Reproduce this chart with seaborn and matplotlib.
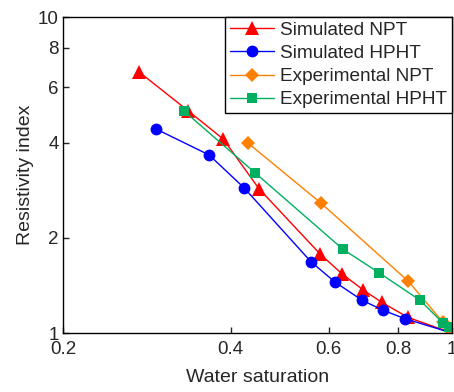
import pandas as pd
import matplotlib.pyplot as plt
import seaborn as sns
from matplotlib.ticker import FixedLocator, NullLocator, FixedFormatter

# Simulated NPT
sw_sim_npt = [0.274, 0.336, 0.388, 0.450, 0.579, 0.634, 0.692, 0.748, 0.834, 1.0]
ri_sim_npt = [6.70, 5.04, 4.11, 2.86, 1.78, 1.54, 1.37, 1.25, 1.12, 1.0]

# Simulated HPHT
sw_sim_hpht = [0.294, 0.366, 0.423, 0.558, 0.616, 0.689, 0.752, 0.823, 1.0]
ri_sim_hpht = [4.42, 3.66, 2.88, 1.68, 1.45, 1.27, 1.18, 1.11, 1.0]

# Experimental NPT
sw_exp_npt = [0.430, 0.581, 0.834, 0.963, 1.0]
ri_exp_npt = [3.99, 2.58, 1.46, 1.083, 1.0]

# Experimental HPHT
sw_exp_hpht = [0.330, 0.443, 0.637, 0.740, 0.876, 0.963, 0.988]
ri_exp_hpht = [5.04, 3.21, 1.84, 1.55, 1.27, 1.076, 1.044]

xticks = [0.2, 0.4, 0.6, 0.8, 1.0]
xtick_labels = ['0.2', '0.4', '0.6', '0.8', '1']
yticks = [1, 2, 4, 6, 8, 10]
ytick_labels = ['1', '2', '4', '6', '8', '10']

series = [
    ('Simulated NPT', sw_sim_npt, ri_sim_npt, '#ff0000', '^', 10),
    ('Simulated HPHT', sw_sim_hpht, ri_sim_hpht, '#0000ff', 'o', 8.5),
    ('Experimental NPT', sw_exp_npt, ri_exp_npt, '#ff8000', 'D', 7.5),
    ('Experimental HPHT', sw_exp_hpht, ri_exp_hpht, '#00b060', 's', 7),
]

sns.set_style('ticks')
plt.rcParams['font.family'] = ['Liberation Sans', 'DejaVu Sans']

fig = plt.figure(figsize=(4.54, 3.92), dpi=100)
ax = fig.add_axes([0.139, 0.1505, 0.8566, 0.806])

for name, x, y, color, marker, ms in series:
    df = pd.DataFrame({'sw': x, 'ri': y})
    sns.lineplot(data=df, x='sw', y='ri', ax=ax, sort=False, color=color,
                 marker=marker, markersize=ms, markeredgewidth=0,
                 linewidth=1.0, label=name)

ax.set_xscale('log')
ax.set_yscale('log')
ax.set_xlim(0.2, 1.0)
ax.set_ylim(1, 10)

ax.xaxis.set_major_locator(FixedLocator(xticks))
ax.xaxis.set_major_formatter(FixedFormatter(xtick_labels))
ax.xaxis.set_minor_locator(NullLocator())
ax.yaxis.set_major_locator(FixedLocator(yticks))
ax.yaxis.set_major_formatter(FixedFormatter(ytick_labels))
ax.yaxis.set_minor_locator(NullLocator())

ax.tick_params(direction='in', length=4, width=1, labelsize=13.5)
ax.tick_params(axis='x', pad=6)
ax.tick_params(axis='y', pad=3)
for s in ax.spines.values():
    s.set_linewidth(1.0)
    s.set_color('black')

ax.set_xlabel('Water saturation', fontsize=14, labelpad=8)
ax.set_ylabel('Resistivity index', fontsize=14, labelpad=3)

leg = ax.legend(loc='upper right', bbox_to_anchor=(1, 1), borderaxespad=0,
                fontsize=13.7, frameon=True, fancybox=False, framealpha=1,
                edgecolor='black', handlelength=2.3, handletextpad=0.35,
                labelspacing=0.3, borderpad=0.25)
leg.get_frame().set_linewidth(1.0)

fig.savefig('out.png', dpi=100)
plt.close()
